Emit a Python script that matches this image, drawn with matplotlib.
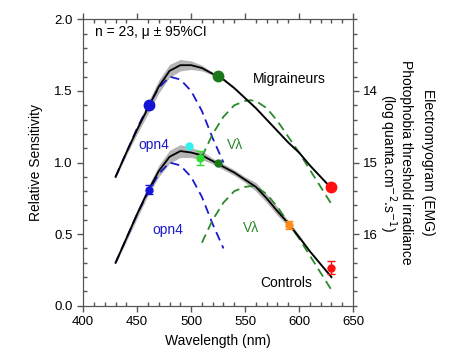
import numpy as np
import matplotlib
matplotlib.use('Agg')
import matplotlib.pyplot as plt
from matplotlib.ticker import MultipleLocator

plt.rcParams['font.family'] = ['Liberation Sans', 'DejaVu Sans']
plt.rcParams['font.size'] = 10

# fitted curves (relative sensitivity)
wl = [430, 440, 450, 460, 470, 480, 490, 500, 510, 520, 530, 540, 550, 560, 570, 580, 590, 600, 610, 620, 630]
migr = [0.90, 1.07, 1.23, 1.38, 1.53, 1.64, 1.68, 1.68, 1.66, 1.62, 1.58, 1.52, 1.45, 1.38, 1.30, 1.22, 1.14, 1.07, 0.98, 0.90, 0.82]
migr_ci = [0.01, 0.02, 0.03, 0.04, 0.045, 0.045, 0.04, 0.03, 0.02, 0.01, 0.01, 0.01, 0.01, 0.01, 0.01, 0.01, 0.01, 0.01, 0.01, 0.01, 0.01]
ctrl = [0.30, 0.47, 0.64, 0.80, 0.94, 1.04, 1.08, 1.07, 1.05, 1.01, 0.97, 0.93, 0.88, 0.83, 0.75, 0.66, 0.575, 0.48, 0.38, 0.29, 0.20]
ctrl_ci = [0.01, 0.02, 0.03, 0.03, 0.04, 0.045, 0.045, 0.035, 0.03, 0.02, 0.02, 0.02, 0.02, 0.03, 0.03, 0.03, 0.02, 0.015, 0.01, 0.01, 0.01]

# nomograms (controls level; migraineurs offset +0.6)
opn4_wl = [430, 440, 450, 460, 470, 480, 490, 500, 510, 520, 530]
opn4 = [0.30, 0.47, 0.64, 0.79, 0.92, 1.00, 0.98, 0.90, 0.76, 0.57, 0.40]
vl_wl = [510, 520, 530, 540, 550, 555, 560, 570, 580, 590, 600, 610, 620, 630]
vl = [0.44, 0.60, 0.72, 0.80, 0.83, 0.835, 0.83, 0.78, 0.69, 0.58, 0.47, 0.35, 0.23, 0.11]
offset = 0.6

# measured points
migr_pts_wl = [461, 525, 630]
migr_pts = [1.40, 1.605, 0.83]
migr_cols = ['#1414d4', '#1a7a1a', '#ff1010']

ctrl_pts_wl = [461, 498, 508, 525, 591, 630]
ctrl_pts = [0.81, 1.115, 1.03, 1.00, 0.565, 0.265]
ctrl_err = [0.03, 0.0, 0.05, 0.0, 0.03, 0.045]
ctrl_cols = ['#1414d4', '#33f0f0', '#33dd33', '#1a7a1a', '#ff8c1a', '#ff1010']

wl = np.array(wl)
fig = plt.figure(figsize=(4.52, 3.52), dpi=100)
ax = fig.add_axes([0.184, 0.1315, 0.597, 0.8135])

for y, ci in [(migr, migr_ci), (ctrl, ctrl_ci)]:
    y = np.array(y)
    ci = np.array(ci)
    ax.fill_between(wl, y - ci, y + ci, color='#b4b4b4', lw=0, zorder=1)
    ax.plot(wl, y, color='black', lw=1.3, zorder=3)

for off in [offset, 0.0]:
    ax.plot(opn4_wl, np.array(opn4) + off, color='#1a1acc', lw=1.3, ls=(0, (5, 3)), zorder=2)
    ax.plot(vl_wl, np.array(vl) + off, color='#2a8a2a', lw=1.3, ls=(0, (5, 3)), zorder=2)

for x, y, c in zip(migr_pts_wl, migr_pts, migr_cols):
    ax.plot(x, y, 'o', color=c, ms=7.5, zorder=5)

for x, y, e, c in zip(ctrl_pts_wl, ctrl_pts, ctrl_err, ctrl_cols):
    ax.errorbar(x, y, yerr=e if e > 0 else None, fmt='o', color=c, ms=5,
                elinewidth=1, capsize=3, capthick=1, zorder=5)

ax.text(411, 1.91, 'n = 23, μ ± 95%CI', ha='left', va='center')
ax.text(591, 1.58, 'Migraineurs', ha='center', va='center')
ax.text(588, 0.16, 'Controls', ha='center', va='center')
ax.text(465, 1.12, 'opn4', color='#1a1acc', ha='center', va='center')
ax.text(478, 0.53, 'opn4', color='#1a1acc', ha='center', va='center')
ax.text(541, 1.12, 'Vλ', color='#2a8a2a', ha='center', va='center')
ax.text(556, 0.54, 'Vλ', color='#2a8a2a', ha='center', va='center')

ax.set_xlim(400, 650)
ax.set_ylim(0, 2.0)
ax.set_xticks([400, 450, 500, 550, 600, 650])
ax.set_xticklabels(['400', '450', '500', '550', '600', '650'])
ax.set_yticks([0, 0.5, 1.0, 1.5, 2.0])
ax.set_yticklabels(['0.0', '0.5', '1.0', '1.5', '2.0'])
ax.xaxis.set_minor_locator(MultipleLocator(10))
ax.yaxis.set_minor_locator(MultipleLocator(0.1))
ax.tick_params(which='major', direction='out', length=4, width=1, color='#555555', top=False, labelsize=9.5)
ax.tick_params(which='minor', direction='in', length=3, width=1, color='#555555', top=True, labeltop=False)
ax.tick_params(axis='x', which='major', top=True)
ax.set_xlabel('Wavelength (nm)', labelpad=4)
ax.set_ylabel('Relative Sensitivity', labelpad=8)
for s in ax.spines.values():
    s.set_color('#555555')

ax2 = ax.twinx()
ax2.set_ylim(17, 13)
ax2.set_yticks([14, 15, 16])
ax2.yaxis.set_minor_locator(MultipleLocator(0.2))
ax2.tick_params(which='major', direction='out', length=4, width=1, color='#555555', labelsize=9.5)
ax2.tick_params(which='minor', direction='out', length=3, width=1, color='#555555')
ax2.set_ylabel('Photophobia threshold irradiance\n(log quanta.cm$^{-2}$.s$^{-1}$)',
               rotation=270, labelpad=25, linespacing=1.0)
for s in ax2.spines.values():
    s.set_color('#555555')
fig.text(0.947, 0.538, 'Electromyogram (EMG)', rotation=270, ha='center', va='center')

fig.savefig('out.png', dpi=100)
